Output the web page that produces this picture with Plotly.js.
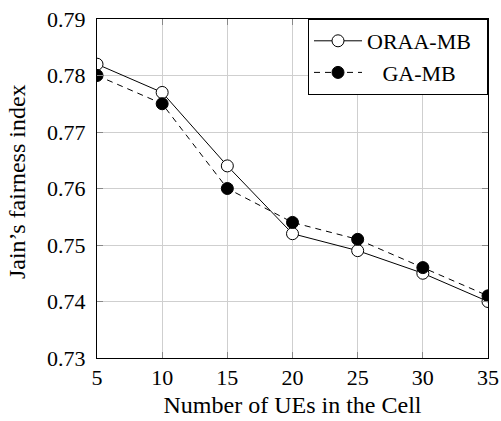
<!DOCTYPE html>
<html>
<head>
<meta charset="utf-8">
<script src="https://cdn.plot.ly/plotly-3.0.1.min.js"></script>
<style>html,body{margin:0;padding:0;background:#fff;}#chart{width:501px;height:421px;}</style>
</head>
<body>
<div id="chart"></div>
<script>
const ues = [5, 10, 15, 20, 25, 30, 35];
const oraaMB = [0.782, 0.777, 0.764, 0.752, 0.749, 0.745, 0.740];
const gaMB = [0.780, 0.775, 0.760, 0.754, 0.751, 0.746, 0.741];
const seriesNames = ['ORAA-MB\u2002', '\u2002\u2009GA-MB'];
const xTicks = [5, 10, 15, 20, 25, 30, 35];
const yTicks = [0.73, 0.74, 0.75, 0.76, 0.77, 0.78, 0.79];
const yTitle = 'Jain\u2019s fairness index';
const xTitle = 'Number of UEs in the Cell';

const fam = "'Liberation Serif', 'Times New Roman', serif";
const tickFont = {family: fam, size: 22, color: '#000'};
const titleFont = {family: fam, size: 24, color: '#000'};
const legendFont = {family: fam, size: 22, color: '#000'};

const traces = [
  {x: ues, y: oraaMB, name: seriesNames[0], type: 'scatter', mode: 'lines+markers',
   line: {color: '#000', width: 1, dash: 'solid'},
   marker: {symbol: 'circle', size: 12, color: '#fff', line: {color: '#000', width: 1}}},
  {x: ues, y: gaMB, name: seriesNames[1], type: 'scatter', mode: 'lines+markers',
   line: {color: '#000', width: 1, dash: '6px,5px'},
   marker: {symbol: 'circle', size: 12, color: '#000', line: {color: '#000', width: 1}}}
];

const layout = {
  width: 501, height: 421,
  margin: {l: 97, r: 13, t: 19, b: 63},
  paper_bgcolor: '#fff', plot_bgcolor: '#fff',
  font: tickFont,
  showlegend: true,
  legend: {x: 1, y: 1, xanchor: 'right', yanchor: 'top', bordercolor: '#000', borderwidth: 1,
           bgcolor: '#fff', font: legendFont, tracegroupgap: 0, itemwidth: 48},
  xaxis: {
    range: [5, 35], tickvals: xTicks, ticktext: xTicks.map(String),
    showgrid: true, gridcolor: '#cfcfcf', gridwidth: 1,
    showline: true, linecolor: '#000', linewidth: 1, mirror: 'ticks',
    ticks: 'inside', ticklen: 6, tickcolor: '#888',
    zeroline: false, tickfont: tickFont, automargin: false,
    title: {text: xTitle, font: titleFont, standoff: 6}
  },
  yaxis: {
    range: [0.73, 0.79], tickvals: yTicks, ticktext: yTicks.map(v => v.toFixed(2)),
    showgrid: true, gridcolor: '#cfcfcf', gridwidth: 1,
    showline: true, linecolor: '#000', linewidth: 1, mirror: 'ticks',
    ticks: 'inside', ticklen: 6, tickcolor: '#888',
    zeroline: false, tickfont: tickFont, automargin: false, ticklabelstandoff: 6
  },
  annotations: [
    {text: yTitle, font: titleFont, textangle: -90, showarrow: false,
     xref: 'paper', yref: 'paper', x: -0.2046, y: 0.519, xanchor: 'center', yanchor: 'middle'}
  ]
};

Plotly.newPlot('chart', traces, layout, {displayModeBar: false, staticPlot: true});
</script>
</body>
</html>
